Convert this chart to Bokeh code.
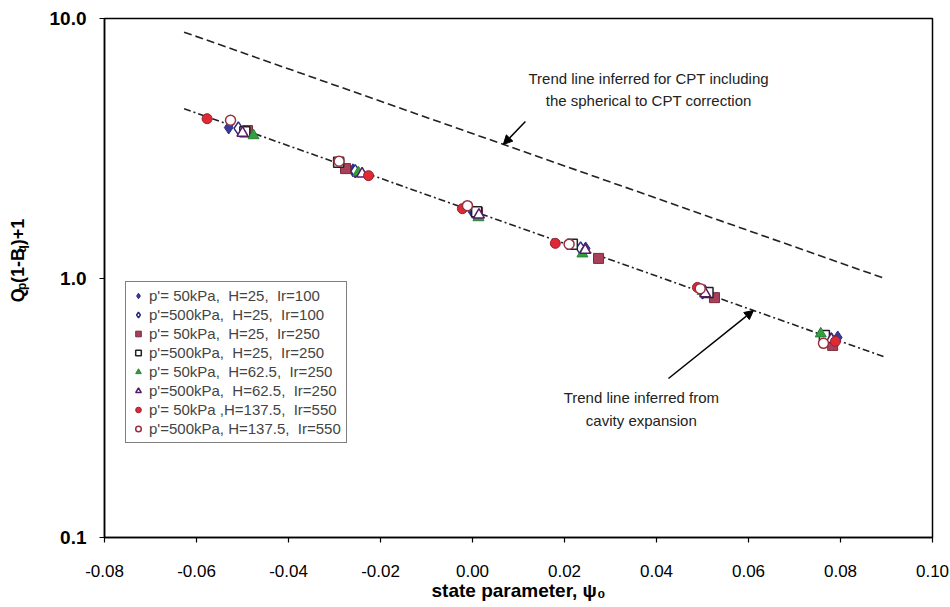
import math
from bokeh.plotting import figure
from bokeh.layouts import row
from bokeh.models import (Range1d, FixedTicker, PrintfTickFormatter, Legend, LegendItem,
                          Label, Arrow, NormalHead)
from bokeh.embed import file_html
from bokeh.resources import INLINE

# ---------------- data ----------------
x_ticks = [-0.08, -0.06, -0.04, -0.02, 0.00, 0.02, 0.04, 0.06, 0.08, 0.10]
y_ticks = [0.1, 1.0, 10.0]

labels = [
    "p'= 50kPa,  H=25,  Ir=100",
    "p'=500kPa,  H=25,  Ir=100",
    "p'= 50kPa,  H=25,  Ir=250",
    "p'=500kPa,  H=25,  Ir=250",
    "p'= 50kPa,  H=62.5,  Ir=250",
    "p'=500kPa,  H=62.5,  Ir=250",
    "p'= 50kPa ,H=137.5,  Ir=550",
    "p'=500kPa, H=137.5,  Ir=550",
]

s1_x = [-0.0530, -0.0260, 0.0000, 0.0246, 0.0505, 0.0794]
s1_y = [3.80, 2.60, 1.80, 1.30, 0.89, 0.59]
s2_x = [-0.0509, -0.0255, 0.0005, 0.0235, 0.0500, 0.0780]
s2_y = [3.77, 2.58, 1.78, 1.30, 0.88, 0.58]
s3_x = [-0.0489, -0.0276, 0.0011, 0.0274, 0.0526, 0.0783]
s3_y = [3.70, 2.64, 1.79, 1.19, 0.84, 0.55]
s4_x = [-0.0495, -0.0291, 0.0009, 0.0217, 0.0512, 0.0765]
s4_y = [3.66, 2.79, 1.80, 1.35, 0.88, 0.60]
s5_x = [-0.0476, -0.0248, 0.0013, 0.0239, 0.0500, 0.0757]
s5_y = [3.54, 2.55, 1.71, 1.24, 0.89, 0.61]
s6_x = [-0.0500, -0.0240, 0.0014, 0.0245, 0.0506, 0.0780]
s6_y = [3.62, 2.52, 1.75, 1.28, 0.87, 0.58]
s7_x = [-0.0577, -0.0226, -0.0022, 0.0180, 0.0489, 0.0789]
s7_y = [4.11, 2.48, 1.85, 1.36, 0.92, 0.57]
s8_x = [-0.0526, -0.0290, -0.0011, 0.0210, 0.0495, 0.0763]
s8_y = [4.05, 2.82, 1.90, 1.35, 0.91, 0.56]

trend_x = [-0.0627, 0.0898]
cavity_y = [4.49, 0.495]
cpt_y = [8.86, 0.993]

FONT = "Liberation Sans"
TOTAL_W, TOTAL_H = 950, 607
AUX_W = 44          # left strip for the y title

bold = dict(text_font=FONT, text_font_style="bold", text_color="black")

# ---------------- y-axis title strip ----------------
yfig = figure(width=AUX_W, height=TOTAL_H, x_range=Range1d(0, AUX_W), y_range=Range1d(0, TOTAL_H),
              output_backend="svg", toolbar_location=None, min_border=0,
              x_axis_location=None, y_axis_location=None, outline_line_color=None,
              background_fill_color="white", border_fill_color="white")
yfig.grid.visible = False
pieces = [("Q", 18, 14.5, 0), ("p", 12, 8.2, 4), ("(1-B", 18, 35.5, 0), ("q", 12, 8.6, 4), (")+1", 18, 26.5, 0)]
base_x = 17
pos = 275
for txt, fs, w, sub in pieces:
    yfig.add_layout(Label(x=base_x + sub, y=pos, text=txt, angle=math.pi / 2, text_font_size=f"{fs}px",
                          text_align="left", text_baseline="alphabetic", **bold))
    pos += w

# ---------------- main chart ----------------
p = figure(width=TOTAL_W - AUX_W, height=TOTAL_H, x_range=Range1d(-0.08, 0.10), y_range=Range1d(0.1, 10.0),
           y_axis_type="log", output_backend="svg", toolbar_location=None,
           min_border_left=104 - AUX_W, min_border_right=TOTAL_W - 932, min_border_top=18,
           min_border_bottom=TOTAL_H - 537,
           background_fill_color="white", border_fill_color="white")
p.outline_line_color = "black"
p.outline_line_width = 1.5
p.grid.visible = False

p.xaxis.ticker = FixedTicker(ticks=x_ticks)
p.xaxis.formatter = PrintfTickFormatter(format="%.2f")
p.yaxis.ticker = FixedTicker(ticks=y_ticks)
p.yaxis.formatter = PrintfTickFormatter(format="%.1f")
for ax in (p.xaxis, p.yaxis):
    ax.axis_line_color = "black"
    ax.axis_line_width = 1.5
    ax.major_tick_line_color = "black"
    ax.major_tick_line_width = 1.2
    ax.major_tick_in = 0
    ax.major_tick_out = 5
    ax.minor_tick_line_color = None
    ax.major_label_text_font = FONT
    ax.major_label_text_color = "black"
p.xaxis.major_label_text_font_size = "17px"
p.xaxis.major_label_standoff = 22
p.xaxis.axis_label = "state parameter, ψ₀"
p.xaxis.axis_label_text_font = FONT
p.xaxis.axis_label_text_font_style = "bold"
p.xaxis.axis_label_text_font_size = "19px"
p.xaxis.axis_label_text_color = "black"
p.xaxis.axis_label_standoff = 0
p.yaxis.major_label_text_font_size = "19px"
p.yaxis.major_label_text_font_style = "bold"
p.yaxis.major_label_standoff = 13

# trend lines
p.line(trend_x, cpt_y, line_color="#222222", line_width=1.6, line_dash="8 4")
p.line(trend_x, cavity_y, line_color="#222222", line_width=1.6, line_dash="7 3 2 3")

# series
MS = 10
r1 = p.scatter(s1_x, s1_y, marker="diamond", size=MS + 3, fill_color="#3a3a9a", line_color="#2a2a80")
r2 = p.scatter(s2_x, s2_y, marker="diamond", size=MS + 3, fill_color="white", line_color="#2a2a80", line_width=1.5)
r3 = p.scatter(s3_x, s3_y, marker="square", size=MS, fill_color="#a8405a", line_color="#7a2a3c")
r4 = p.scatter(s4_x, s4_y, marker="square", size=MS, fill_color="white", line_color="#222222", line_width=1.5)
r5 = p.scatter(s5_x, s5_y, marker="triangle", size=MS + 1, fill_color="#33a040", line_color="#2a8035")
r6 = p.scatter(s6_x, s6_y, marker="triangle", size=MS + 1, fill_color="white", line_color="#551a66", line_width=1.5)
r7 = p.scatter(s7_x, s7_y, marker="circle", size=MS, fill_color="#dd2a35", line_color="#992030")
r8 = p.scatter(s8_x, s8_y, marker="circle", size=MS, fill_color="white", line_color="#993040", line_width=1.5)
renderers = [r1, r2, r3, r4, r5, r6, r7, r8]

legend = Legend(items=[LegendItem(label=l, renderers=[r]) for l, r in zip(labels, renderers)],
                location=(21, 94), label_text_font=FONT, label_text_font_size="15px",
                label_height=16, glyph_height=15, glyph_width=14, spacing=2, padding=5,
                label_standoff=4, margin=0, border_line_color="black", border_line_width=1.5,
                background_fill_color="white", background_fill_alpha=1.0)
p.add_layout(legend, "center")

# annotations
ann = dict(text_font=FONT, text_font_size="15px", text_align="center", text_baseline="middle",
           text_color="#222222")
p.add_layout(Label(x=0.0383, y=5.87, text="Trend line inferred for CPT including", **ann))
p.add_layout(Label(x=0.0383, y=4.83, text="the spherical to CPT correction", **ann))
p.add_layout(Label(x=0.0367, y=0.346, text="Trend line inferred from", **ann))
p.add_layout(Label(x=0.0367, y=0.282, text="cavity expansion", **ann))

p.add_layout(Arrow(end=NormalHead(size=9, fill_color="black", line_color="black"),
                   x_start=0.0115, y_start=4.01, x_end=0.0067, y_end=3.27,
                   line_color="black", line_width=1.5))
p.add_layout(Arrow(end=NormalHead(size=9, fill_color="black", line_color="black"),
                   x_start=0.0426, y_start=0.410, x_end=0.0611, y_end=0.750,
                   line_color="black", line_width=1.5))

layout = row(yfig, p)
open("out.html", "w").write(file_html(layout, INLINE))
